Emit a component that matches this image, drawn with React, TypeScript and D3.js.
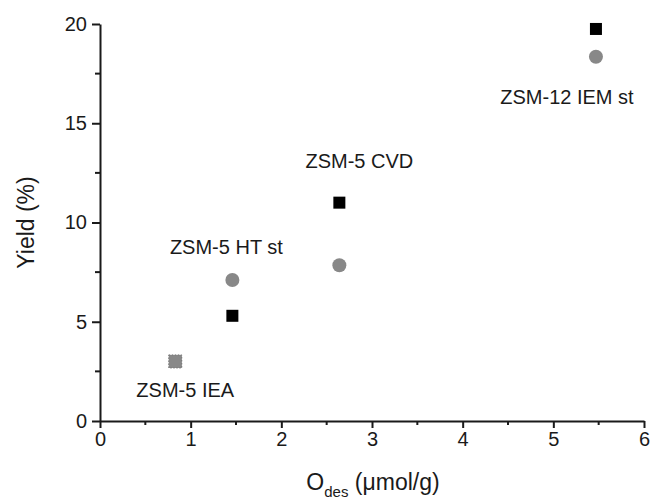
import React, { useEffect, useRef } from "react";
import * as d3 from "d3";

// O_des (µmol/g) for each sample
const samples = ["ZSM-5 IEA", "ZSM-5 HT st", "ZSM-5 CVD", "ZSM-12 IEM st"];
const odes = [0.83, 1.46, 2.64, 5.47];
const yieldBlack = [3.0, 5.3, 11.0, 19.75];
const yieldGray = [3.0, 7.1, 7.85, 18.35];
const xTicks = [0, 1, 2, 3, 4, 5, 6];
const yTicks = [0, 5, 10, 15, 20];

const App = () => {
  const ref = useRef<SVGSVGElement>(null);

  useEffect(() => {
    const width = 650;
    const height = 499;
    const margin = { top: 24, right: 6, bottom: 78, left: 100 };
    const svg = d3.select(ref.current);
    svg.selectAll("*").remove();

    const x = d3.scaleLinear().domain([0, 6]).range([margin.left, width - margin.right]);
    const y = d3.scaleLinear().domain([0, 20]).range([height - margin.bottom, margin.top]);
    const font = "Arial, 'Liberation Sans', sans-serif";
    const ink = "#1a1a1a";

    const xAxis = svg
      .append("g")
      .attr("transform", `translate(0, ${y(0)})`)
      .call(
        d3.axisBottom(x).tickValues(xTicks).tickFormat(d3.format("d")).tickSize(7).tickPadding(4).tickSizeOuter(0)
      );
    xAxis
      .selectAll(".minor")
      .data(d3.range(0.5, 6, 1))
      .enter()
      .append("line")
      .attr("x1", (d) => x(d))
      .attr("x2", (d) => x(d))
      .attr("y1", 0)
      .attr("y2", 4);

    const yAxis = svg
      .append("g")
      .attr("transform", `translate(${margin.left}, 0)`)
      .call(
        d3.axisLeft(y).tickValues(yTicks).tickFormat(d3.format("d")).tickSize(8).tickPadding(5).tickSizeOuter(0)
      );
    yAxis
      .selectAll(".minor")
      .data(d3.range(2.5, 20, 5))
      .enter()
      .append("line")
      .attr("x1", 0)
      .attr("x2", -5)
      .attr("y1", (d) => y(d))
      .attr("y2", (d) => y(d));

    svg.selectAll(".domain").attr("stroke", ink).attr("stroke-width", 2);
    svg.selectAll("g line").attr("stroke", ink).attr("stroke-width", 2);
    svg
      .selectAll(".tick text")
      .style("font-family", font)
      .style("font-size", "20px")
      .style("fill", ink);

    // black squares
    svg
      .selectAll(".sq")
      .data(odes)
      .enter()
      .append("rect")
      .attr("x", (d) => x(d) - 6)
      .attr("y", (d, i) => y(yieldBlack[i]) - 6)
      .attr("width", 12)
      .attr("height", 12)
      .attr("fill", "#000");

    // gray circles (a coincident point shows as a gray square)
    odes.forEach((d, i) => {
      if (yieldGray[i] === yieldBlack[i]) {
        svg
          .append("rect")
          .attr("x", x(d) - 6.5)
          .attr("y", y(yieldGray[i]) - 6.5)
          .attr("width", 13)
          .attr("height", 13)
          .attr("fill", "#888")
          .attr("stroke", "#777")
          .attr("stroke-dasharray", "1.5,1.5");
      } else {
        svg
          .append("circle")
          .attr("cx", x(d))
          .attr("cy", y(yieldGray[i]))
          .attr("r", 7)
          .attr("fill", "#888");
      }
    });

    // label offsets from the black square
    const labelOff = [
      { dx: 10, dy: 36 },
      { dx: -6, dy: -62 },
      { dx: 20, dy: -35 },
      { dx: -29, dy: 75 },
    ];
    svg
      .selectAll(".lbl")
      .data(samples)
      .enter()
      .append("text")
      .attr("x", (d, i) => x(odes[i]) + labelOff[i].dx)
      .attr("y", (d, i) => y(yieldBlack[i]) + labelOff[i].dy)
      .attr("text-anchor", "middle")
      .style("font-family", font)
      .style("font-size", "20px")
      .style("fill", ink)
      .text((d) => d);

    svg
      .append("text")
      .attr("transform", `translate(34, ${(y(0) + y(20)) / 2}) rotate(-90)`)
      .attr("text-anchor", "middle")
      .style("font-family", font)
      .style("font-size", "23px")
      .style("fill", ink)
      .text("Yield (%)");

    const xt = svg
      .append("text")
      .attr("x", 373)
      .attr("y", 490)
      .attr("text-anchor", "middle")
      .style("font-family", font)
      .style("font-size", "23px")
      .style("fill", ink);
    xt.append("tspan").text("O");
    xt.append("tspan").attr("dy", 7).style("font-size", "15px").text("des");
    xt.append("tspan").attr("dy", -7).text(" (\u03bcmol/g)");
  }, []);

  return (
    <svg
      ref={ref}
      width={650}
      height={499}
      style={{ position: "absolute", left: 0, top: 0, background: "#fff" }}
    />
  );
};

export default App;
